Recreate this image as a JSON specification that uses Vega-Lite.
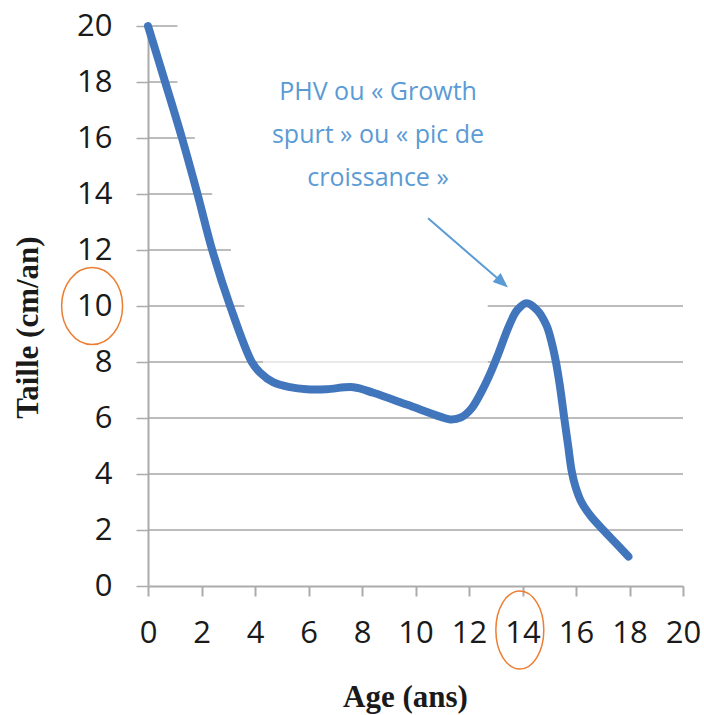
{
  "$schema": "https://vega.github.io/schema/vega-lite/v6.json",
  "width": 535,
  "height": 560,
  "autosize": {"type": "none"},
  "padding": {"left": 148, "top": 26, "right": 21, "bottom": 129},
  "background": "white",
  "config": {"view": {"stroke": null}},
  "datasets": {
    "curve": [
      {"age": 0, "taille": 20}, {"age": 0.64, "taille": 18}, {"age": 1.27, "taille": 16},
      {"age": 1.85, "taille": 14}, {"age": 2.4, "taille": 12}, {"age": 3.07, "taille": 10},
      {"age": 3.88, "taille": 8}, {"age": 4.19, "taille": 7.62}, {"age": 4.69, "taille": 7.27},
      {"age": 5.31, "taille": 7.1}, {"age": 5.93, "taille": 7.03}, {"age": 6.68, "taille": 7.03},
      {"age": 7.68, "taille": 7.1}, {"age": 8.42, "taille": 6.9}, {"age": 9.67, "taille": 6.48},
      {"age": 10.92, "taille": 6.05}, {"age": 11.3, "taille": 5.95}, {"age": 11.7, "taille": 6.02},
      {"age": 12.1, "taille": 6.35}, {"age": 12.5, "taille": 7.0}, {"age": 12.8, "taille": 7.6},
      {"age": 13.1, "taille": 8.3}, {"age": 13.5, "taille": 9.3}, {"age": 13.8, "taille": 9.85},
      {"age": 14.15, "taille": 10.1}, {"age": 14.55, "taille": 9.85}, {"age": 14.9, "taille": 9.3},
      {"age": 15.09, "taille": 8.7}, {"age": 15.25, "taille": 8.0}, {"age": 15.4, "taille": 7.13},
      {"age": 15.56, "taille": 6.0}, {"age": 15.71, "taille": 4.98}, {"age": 15.84, "taille": 4.1},
      {"age": 15.98, "taille": 3.55}, {"age": 16.2, "taille": 3.0}, {"age": 16.55, "taille": 2.5},
      {"age": 17.02, "taille": 2.0}, {"age": 17.52, "taille": 1.5}, {"age": 17.96, "taille": 1.05}
    ],
    "grid": [
      {"y": 20, "x0": 0, "x1": 1.1}, {"y": 18, "x0": 0, "x1": 1.1},
      {"y": 16, "x0": 0, "x1": 1.75}, {"y": 14, "x0": 0, "x1": 2.4},
      {"y": 12, "x0": 0, "x1": 3.1}, {"y": 10, "x0": 0, "x1": 3.6},
      {"y": 10, "x0": 12.7, "x1": 20}, {"y": 8, "x0": 0, "x1": 4.3},
      {"y": 8, "x0": 12.7, "x1": 20}, {"y": 6, "x0": 0, "x1": 20},
      {"y": 4, "x0": 0, "x1": 20}, {"y": 2, "x0": 0, "x1": 20}
    ],
    "gridFaint": [
      {"y": 8, "x0": 4.3, "x1": 12.7}
    ]
  },
  "encoding": {
    "x": {"type": "quantitative"},
    "y": {"type": "quantitative"}
  },
  "layer": [
    {
      "data": {"name": "gridFaint"},
      "mark": {"type": "rule", "color": "#e2e2e2", "strokeWidth": 1.5},
      "encoding": {
        "x": {"field": "x0", "type": "quantitative", "scale": {"domain": [0, 20], "nice": false}},
        "x2": {"field": "x1"},
        "y": {"field": "y", "type": "quantitative", "scale": {"domain": [0, 20], "nice": false}}
      }
    },
    {
      "data": {"name": "grid"},
      "mark": {"type": "rule", "color": "#a6a6a6", "strokeWidth": 1.5},
      "encoding": {
        "x": {"field": "x0", "type": "quantitative"},
        "x2": {"field": "x1"},
        "y": {"field": "y", "type": "quantitative"}
      }
    },
    {
      "data": {"name": "curve"},
      "mark": {"type": "line", "interpolate": "catmull-rom", "color": "#4175BC", "strokeWidth": 8, "strokeCap": "round", "strokeJoin": "round"},
      "encoding": {
        "x": {
          "field": "age", "type": "quantitative",
          "scale": {"domain": [0, 20], "nice": false},
          "axis": {
            "values": [0, 2, 4, 6, 8, 10, 12, 14, 16, 18, 20],
            "title": "Age (ans)",
            "grid": false,
            "domainColor": "#ababab", "domainWidth": 2,
            "tickColor": "#ababab", "tickWidth": 2, "tickSize": 10,
            "labelFont": "Open Sans", "labelFontSize": 31, "labelColor": "#1a1a1a",
            "labelPadding": 22, "labelFlush": false, "labelOverlap": false,
            "titleFont": "Liberation Serif", "titleFontSize": 31, "titleFontWeight": "bold",
            "titleColor": "#1a1a1a", "titleX": 257, "titleY": 111, "titleBaseline": "middle", "titleAlign": "center"
          }
        },
        "y": {
          "field": "taille", "type": "quantitative",
          "scale": {"domain": [0, 20], "nice": false},
          "axis": {
            "values": [0, 2, 4, 6, 8, 10, 12, 14, 16, 18, 20],
            "title": "Taille (cm/an)",
            "grid": false,
            "domainColor": "#ababab", "domainWidth": 2,
            "tickColor": "#ababab", "tickWidth": 1.5, "tickSize": 12,
            "labelFont": "Open Sans", "labelFontSize": 31, "labelColor": "#1a1a1a",
            "labelPadding": 24, "labelFlush": false, "labelOverlap": false,
            "titleFont": "Liberation Serif", "titleFontSize": 31, "titleFontWeight": "bold",
            "titleColor": "#1a1a1a", "titleX": -120, "titleY": 301, "titleBaseline": "middle", "titleAlign": "center"
          }
        }
      }
    },
    {
      "data": {"values": [{"x": 10.47, "y": 13.13, "x2": 13.245, "y2": 10.84}]},
      "mark": {"type": "rule", "color": "#5B9BD5", "strokeWidth": 2},
      "encoding": {
        "x": {"field": "x", "type": "quantitative"},
        "y": {"field": "y", "type": "quantitative"},
        "x2": {"field": "x2"},
        "y2": {"field": "y2"}
      }
    },
    {
      "data": {"values": [{"x": 13.245, "y": 10.84}]},
      "mark": {"type": "point", "shape": "M0,-1L0.8,1L-0.8,1Z", "filled": true, "color": "#5B9BD5", "opacity": 1, "size": 225, "angle": 131},
      "encoding": {
        "x": {"field": "x", "type": "quantitative"},
        "y": {"field": "y", "type": "quantitative"}
      }
    },
    {
      "data": {"values": [{"x": 8.6, "y": 17.35, "label": "PHV ou « Growth\nspurt » ou « pic de\ncroissance »"}]},
      "mark": {"type": "text", "font": "Open Sans", "fontSize": 25, "color": "#5B9BD5", "align": "center", "baseline": "alphabetic", "lineBreak": "\n", "lineHeight": 43},
      "encoding": {
        "x": {"field": "x", "type": "quantitative"},
        "y": {"field": "y", "type": "quantitative"},
        "text": {"field": "label"}
      }
    },
    {
      "data": {"values": [{"x": -2.09, "y": 10}]},
      "mark": {"type": "point", "shape": "M0.792,0C0.792,0.5523,0.4374,1,0,1C-0.4374,1,-0.792,0.5523,-0.792,0C-0.792,-0.5523,-0.4374,-1,0,-1C0.4374,-1,0.792,-0.5523,0.792,0Z", "filled": false, "color": "#ED7D31", "strokeWidth": 1.5, "opacity": 1, "size": 5929},
      "encoding": {
        "x": {"field": "x", "type": "quantitative"},
        "y": {"field": "y", "type": "quantitative"}
      }
    },
    {
      "data": {"values": [{"x": 13.9, "y": -1.57}]},
      "mark": {"type": "point", "shape": "M0.615,0C0.615,0.5523,0.3397,1,0,1C-0.3397,1,-0.615,0.5523,-0.615,0C-0.615,-0.5523,-0.3397,-1,0,-1C0.3397,-1,0.615,-0.5523,0.615,0Z", "filled": false, "color": "#ED7D31", "strokeWidth": 1.5, "opacity": 1, "size": 6084},
      "encoding": {
        "x": {"field": "x", "type": "quantitative"},
        "y": {"field": "y", "type": "quantitative"}
      }
    }
  ]
}
